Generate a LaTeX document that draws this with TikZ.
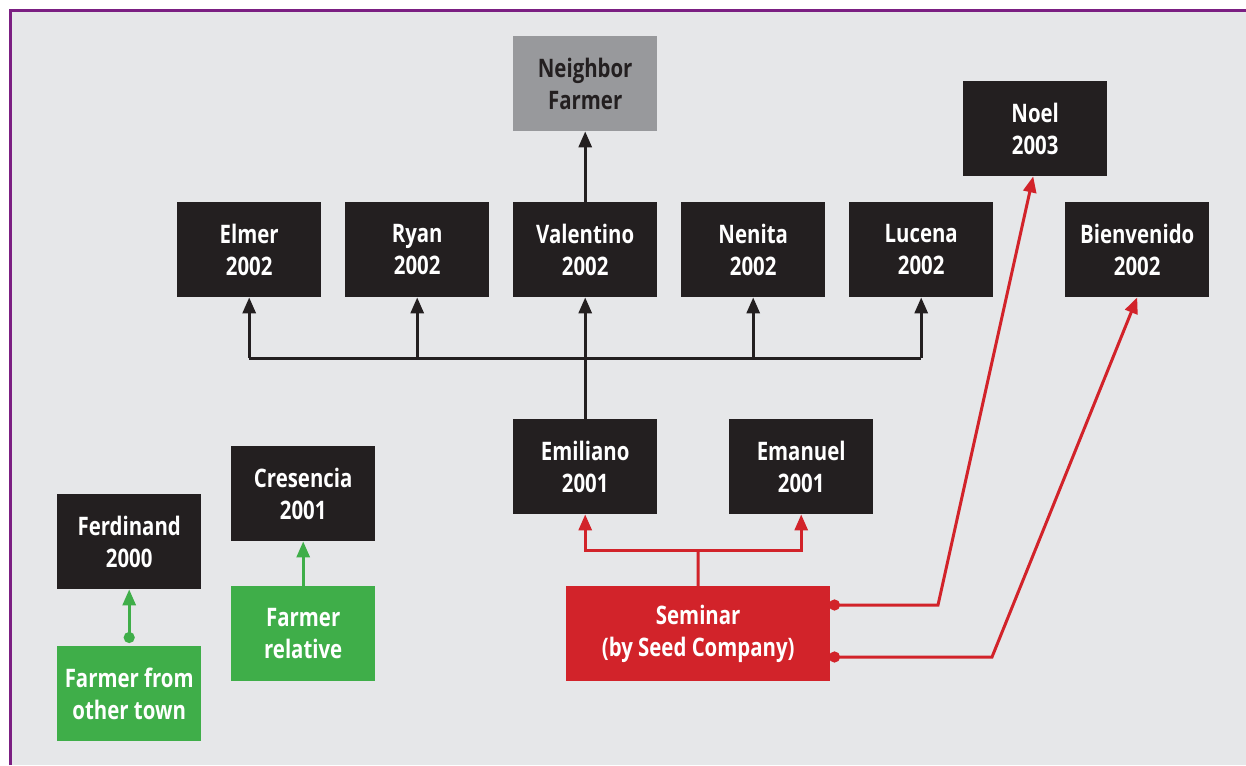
\documentclass[tikz,border=0pt]{standalone}
\usepackage{fontspec}
\setmainfont{Open Sans}[FakeStretch=0.8]
\usetikzlibrary{arrows.meta}
\definecolor{bg}{HTML}{E6E7E9}
\definecolor{purp}{HTML}{7B1F82}
\definecolor{boxk}{HTML}{231F20}
\definecolor{nbgray}{HTML}{98999C}
\definecolor{redc}{HTML}{D2232A}
\definecolor{greenc}{HTML}{3FAE49}
\tikzset{
  base/.style={minimum width=144pt, minimum height=95pt, inner sep=0pt, align=center, font=\bfseries\fontsize{25.5}{32}\selectfont, anchor=north west},
  kbox/.style={base, fill=boxk, text=white},
  gbox/.style={base, fill=nbgray, text=boxk},
  grbox/.style={base, fill=greenc, text=white},
  rbox/.style={base, fill=redc, text=white, minimum width=264pt},
  karr/.style={draw=boxk, line width=3pt, -{Triangle[length=16pt,width=13pt]}},
  rarr/.style={draw=redc, line width=3pt, -{Triangle[length=16pt,width=13pt]}},
  garr/.style={draw=greenc, line width=3pt, -{Triangle[length=16pt,width=13pt]}},
  dotarr/.style={{Circle[length=11pt]}-{Triangle[length=16pt,width=13pt]}},
}
\begin{document}
\begin{tikzpicture}[x=1pt,y=-1pt]
\useasboundingbox (0,0) rectangle (1246,765);
\fill[bg] (10,11) rectangle (1246,765);
\draw[purp, line width=3pt] (10.5,765) -- (10.5,11) -- (1246,11);
% nodes
\node[gbox] (nb) at (513,36) {Neighbor\\Farmer};
\node[kbox] (noel) at (963,81) {Noel\\2003};
\node[kbox] (elmer) at (177,202) {Elmer\\2002};
\node[kbox] (ryan) at (345,202) {Ryan\\2002};
\node[kbox] (val) at (513,202) {Valentino\\2002};
\node[kbox] (nen) at (681,202) {Nenita\\2002};
\node[kbox] (luc) at (849,202) {Lucena\\2002};
\node[kbox] (bien) at (1065,202) {Bienvenido\\2002};
\node[kbox] (emil) at (513,419) {Emiliano\\2001};
\node[kbox] (eman) at (729,419) {Emanuel\\2001};
\node[kbox] (cres) at (231,446) {Cresencia\\2001};
\node[kbox] (ferd) at (57,494) {Ferdinand\\2000};
\node[grbox] (frel) at (231,586) {Farmer\\relative};
\node[grbox] (fot) at (57,646) {Farmer from\\other town};
\node[rbox] (sem) at (566,586) {Seminar\\(by Seed Company)};
% coordinates
\coordinate (bus) at (585,358);
\coordinate (sbus) at (698,550);
\coordinate (d1) at (829,605);
\coordinate (d2) at (829,657);
\coordinate (k1) at (938,605);
\coordinate (k2) at (992,657);
% black connectors
\draw[karr] (val.north) -- (nb.south);
\draw[karr] (emil.north) -- (val.south);
\draw[draw=boxk, line width=3pt] (elmer.south |- bus) -- (luc.south |- bus);
\draw[karr] (elmer.south |- bus) -- (elmer.south);
\draw[karr] (ryan.south |- bus) -- (ryan.south);
\draw[karr] (nen.south |- bus) -- (nen.south);
\draw[karr] (luc.south |- bus) -- (luc.south);
% red connectors
\draw[draw=redc, line width=3pt] (sem.north) -- (sbus);
\draw[rarr] (sbus) -| (emil.south);
\draw[rarr] (sbus) -| (eman.south);
\draw[rarr, dotarr] (d1) -- (k1) -- ([xshift=-2pt]noel.south);
\draw[rarr, dotarr] (d2) -- (k2) -- (bien.south);
% green connectors
\draw[garr] (frel.north) -- (cres.south);
\draw[garr, dotarr] ([yshift=3pt]fot.north) -- (ferd.south);
\end{tikzpicture}
\end{document}
